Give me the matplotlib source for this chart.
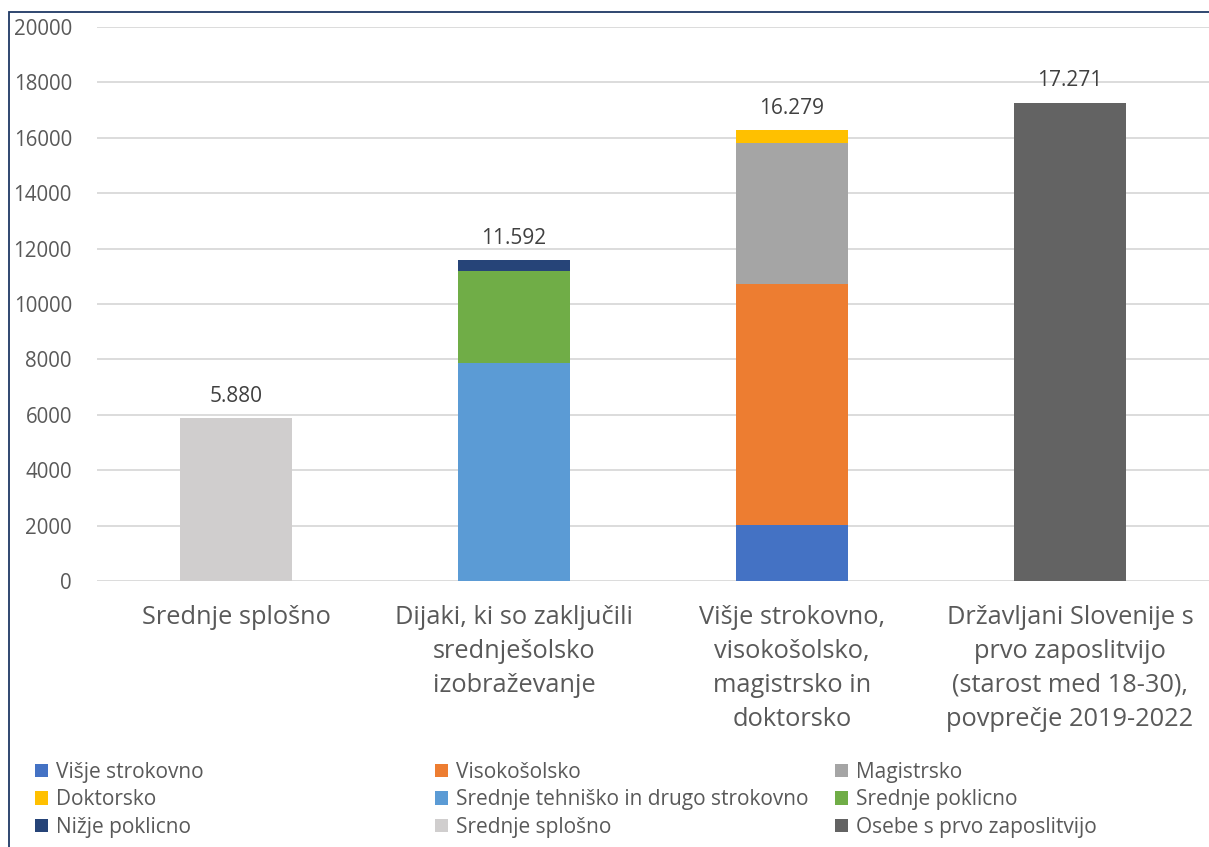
import matplotlib.pyplot as plt
from matplotlib.patches import Rectangle, Patch

plt.rcParams['font.family'] = ['Open Sans', 'DejaVu Sans']

col_text = '#595959'
col_grid = '#D9D9D9'
col_frame = '#1F3864'

categories = [
    'Srednje splošno',
    'Dijaki, ki so zaključili\nsrednješolsko\nizobraževanje',
    'Višje strokovno,\nvisokošolsko,\nmagistrsko in\ndoktorsko',
    'Državljani Slovenije s\nprvo zaposlitvijo\n(starost med 18-30),\npovprečje 2019-2022',
]
totals = [5880, 11592, 16279, 17271]
total_labels = ['5.880', '11.592', '16.279', '17.271']

series_names = [
    'Višje strokovno', 'Visokošolsko', 'Magistrsko',
    'Doktorsko', 'Srednje tehniško in drugo strokovno', 'Srednje poklicno',
    'Nižje poklicno', 'Srednje splošno', 'Osebe s prvo zaposlitvijo',
]
series_colors = [
    '#4472C4', '#ED7D31', '#A5A5A5',
    '#FFC000', '#5B9BD5', '#70AD47',
    '#264478', '#D0CECE', '#636363',
]
visje_strokovno = [0, 0, 2005, 0]
visokosolsko = [0, 0, 8700, 0]
magistrsko = [0, 0, 5100, 0]
doktorsko = [0, 0, 474, 0]
srednje_tehnisko = [0, 7873, 0, 0]
srednje_poklicno = [0, 3302, 0, 0]
nizje_poklicno = [0, 417, 0, 0]
srednje_splosno = [5880, 0, 0, 0]
prva_zaposlitev = [0, 0, 0, 17271]
series_values = [
    visje_strokovno, visokosolsko, magistrsko,
    doktorsko, srednje_tehnisko, srednje_poklicno,
    nizje_poklicno, srednje_splosno, prva_zaposlitev,
]

W, H = 1209, 847
fig = plt.figure(figsize=(W / 100, H / 100), dpi=100)
ax = fig.add_axes([97 / W, (H - 581) / H, 1112 / W, 554 / H])

x = list(range(len(categories)))
bottom = [0] * len(categories)
for name, color, vals in zip(series_names, series_colors, series_values):
    ax.bar(x, vals, bottom=bottom, width=0.40, color=color, label=name, zorder=3)
    bottom = [b + v for b, v in zip(bottom, vals)]

for xi, t, lab in zip(x, totals, total_labels):
    ax.annotate(lab, (xi, t), xytext=(0, 8), textcoords='offset points',
                ha='center', va='bottom', fontsize=15, color='#404040')

ax.set_xlim(-0.5, len(categories) - 0.5)
ax.set_ylim(0, 20000)
ax.set_yticks(range(0, 20001, 2000))
ax.set_yticklabels([str(v) for v in range(0, 20001, 2000)])
ax.set_xticks(x)
ax.set_xticklabels(categories, fontsize=18.3, color=col_text, linespacing=1.46)
ax.tick_params(axis='y', length=0, pad=18, labelsize=14.8, labelcolor=col_text)
ax.tick_params(axis='x', length=0, pad=17.5)
ax.grid(axis='y', color=col_grid, linewidth=1.3, zorder=0)
ax.grid(axis='x', visible=False)
for s in ax.spines.values():
    s.set_visible(False)
ax.set_facecolor('white')

# legend laid out in three columns like the original
col_x = [35 / W, 435 / W, 835 / W]
for c in range(3):
    idx = [c, c + 3, c + 6]
    handles = [Patch(facecolor=series_colors[i], edgecolor='none') for i in idx]
    fig.legend(handles, [series_names[i] for i in idx], loc='upper left',
               bbox_to_anchor=(col_x[c], (H - 762) / H), frameon=False,
               fontsize=15, labelcolor=col_text, handlelength=0.6, handleheight=0.6,
               handletextpad=0.4, labelspacing=0.3, borderaxespad=0, borderpad=0)

# outer chart frame (cropped at right and bottom)
fig.patches.append(Rectangle((9 / W, -0.1), 1.2, 1.1 - 12 / H,
                             transform=fig.transFigure, fill=False,
                             edgecolor=col_frame, linewidth=1.3))

fig.savefig('out.png', dpi=100, facecolor='white')
